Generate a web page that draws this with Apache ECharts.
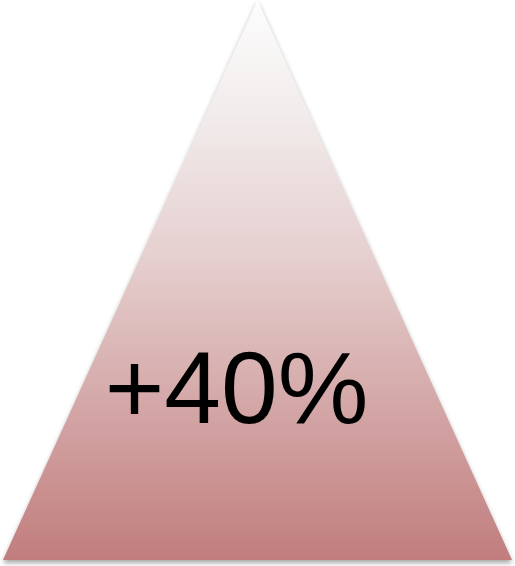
<!DOCTYPE html>
<html>
<head>
<meta charset="utf-8">
<script src="https://cdn.jsdelivr.net/npm/echarts@6/dist/echarts.min.js"></script>
<style>html,body{margin:0;padding:0;background:#fff;}#c{width:515px;height:566px;}</style>
</head>
<body>
<div id="c"></div>
<script>
var categories = ['growth'];
var values = [40];
var labels = ['+40%'];

var chart = echarts.init(document.getElementById('c'));
chart.setOption({
  animation: false,
  grid: {left: 3, right: 3, top: 0, bottom: 6},
  xAxis: {type: 'category', data: categories, show: false},
  yAxis: {type: 'value', min: 0, max: 40, show: false},
  series: [{
    type: 'pictorialBar',
    symbol: 'triangle',
    symbolSize: ['100%', '100%'],
    barWidth: '100%',
    data: values,
    itemStyle: {
      color: new echarts.graphic.LinearGradient(0, 0, 0, 1, [
        {offset: 0, color: '#fdfdfd'},
        {offset: 0.2, color: '#f2ecec'},
        {offset: 0.46, color: '#e6cfcf'},
        {offset: 1, color: '#c17d7d'}
      ]),
      shadowColor: 'rgba(0,0,0,0.35)',
      shadowBlur: 5,
      shadowOffsetY: 3
    },
    label: {
      show: true,
      position: 'inside',
      offset: [-21, 115],
      formatter: function (p) { return labels[p.dataIndex]; },
      color: '#000',
      fontFamily: 'Liberation Sans',
      fontSize: 102
    }
  }]
});
</script>
</body>
</html>
